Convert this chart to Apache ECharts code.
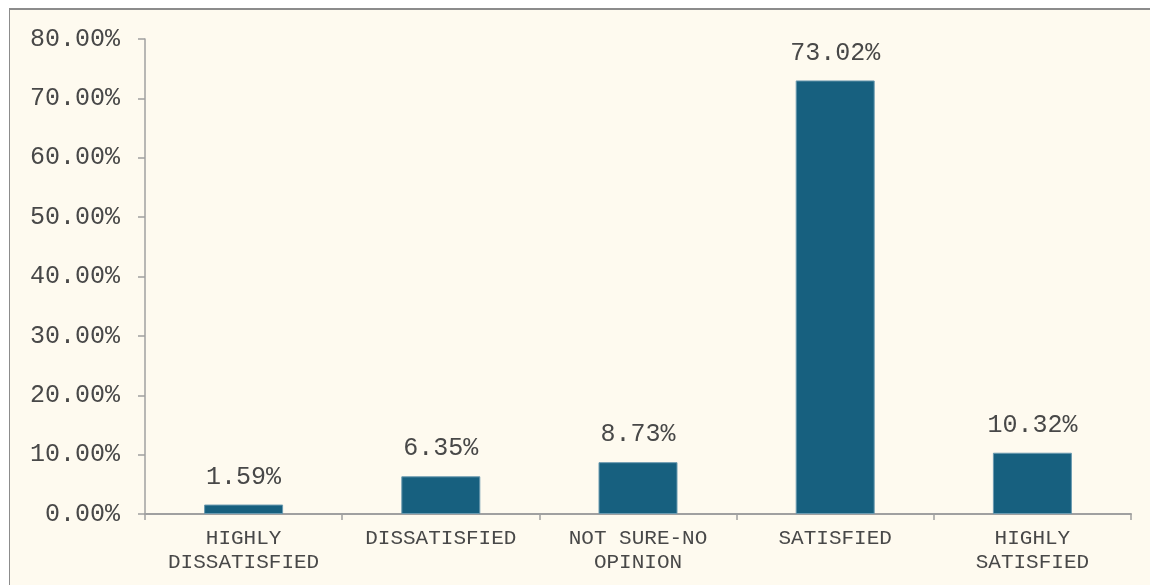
<!DOCTYPE html>
<html>
<head>
<meta charset="utf-8">
<script src="https://cdn.jsdelivr.net/npm/echarts@6/dist/echarts.min.js"></script>
<style>
html,body{margin:0;padding:0;background:#ffffff;overflow:hidden;}
#frame{position:absolute;left:9px;top:8px;width:1200px;height:700px;background:#fefaef;border-top:2px solid #8c8c8c;border-left:1px solid #8c8c8c;}
#chart{position:absolute;left:0;top:0;width:1150px;height:585px;}
</style>
</head>
<body>
<div id="frame"></div>
<div id="chart"></div>
<script>
const categories = ['HIGHLY\nDISSATISFIED', 'DISSATISFIED', 'NOT SURE-NO\nOPINION', 'SATISFIED', 'HIGHLY\nSATISFIED'];
const values = [1.59, 6.35, 8.73, 73.02, 10.32];
const yTicks = [0, 10, 20, 30, 40, 50, 60, 70, 80];

const chart = echarts.init(document.getElementById('chart'));
const font = '"Liberation Mono", "Courier New", monospace';
chart.setOption({
  backgroundColor: 'transparent',
  animation: false,
  grid: {left: 145, right: 19, top: 39, bottom: 71, containLabel: false},
  xAxis: {
    type: 'category',
    data: categories,
    axisLine: {lineStyle: {color: '#a0a0a0', width: 2}},
    axisTick: {show: true, length: 6, lineStyle: {color: '#a0a0a0', width: 1.5}},
    axisLabel: {color: '#484848', fontFamily: font, fontSize: 21, lineHeight: 24, margin: 12, interval: 0}
  },
  yAxis: {
    type: 'value',
    min: yTicks[0], max: yTicks[yTicks.length - 1], interval: 10,
    splitLine: {show: false},
    axisLine: {show: true, lineStyle: {color: '#a0a0a0', width: 1.5}},
    axisTick: {show: true, length: 7, lineStyle: {color: '#a0a0a0', width: 1.5}},
    axisLabel: {color: '#484848', fontFamily: font, fontSize: 25, margin: 25,
      formatter: v => v.toFixed(2) + '%'}
  },
  series: [{
    type: 'bar',
    data: values,
    barWidth: 79,
    itemStyle: {color: '#17607f', borderColor: '#6b9ab0', borderWidth: 1},
    label: {show: true, position: 'top', distance: 15, color: '#484848', fontFamily: font, fontSize: 25,
      formatter: p => p.value.toFixed(2) + '%'}
  }]
});
</script>
</body>
</html>
